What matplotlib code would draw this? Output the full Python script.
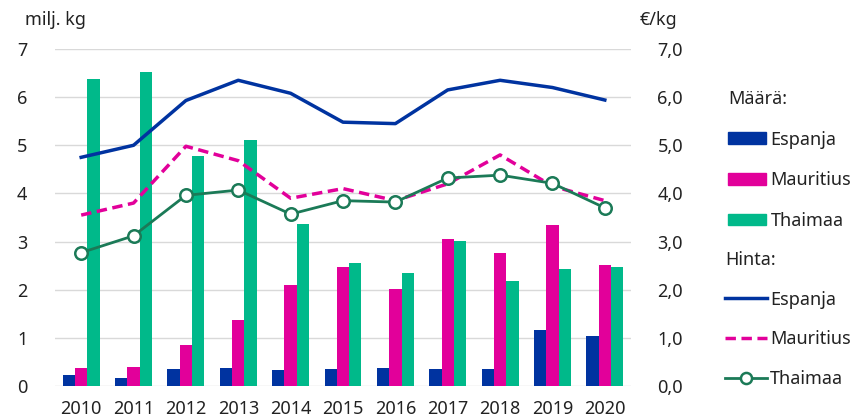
import numpy as np
import matplotlib.pyplot as plt
from matplotlib.lines import Line2D
from matplotlib.patches import Patch

plt.rcParams['font.family'] = ['Noto Sans', 'DejaVu Sans']

years = ['2010', '2011', '2012', '2013', '2014', '2015', '2016', '2017', '2018', '2019', '2020']

# amounts, million kg
qty_espanja = [0.22, 0.17, 0.35, 0.38, 0.33, 0.35, 0.38, 0.35, 0.36, 1.16, 1.04]
qty_mauritius = [0.38, 0.40, 0.85, 1.38, 2.10, 2.48, 2.01, 3.06, 2.77, 3.35, 2.52]
qty_thaimaa = [6.38, 6.52, 4.78, 5.11, 3.37, 2.56, 2.35, 3.02, 2.19, 2.42, 2.47]

# prices, EUR/kg
price_espanja = [4.75, 5.00, 5.93, 6.35, 6.08, 5.48, 5.45, 6.15, 6.35, 6.20, 5.94]
price_mauritius = [3.55, 3.80, 4.98, 4.68, 3.90, 4.10, 3.85, 4.20, 4.80, 4.15, 3.85]
price_thaimaa = [2.77, 3.12, 3.96, 4.07, 3.57, 3.85, 3.82, 4.32, 4.38, 4.21, 3.70]

c_blue = '#0033A0'
c_pink = '#E2009A'
c_green = '#00B98A'
c_dkgreen = '#1B7A57'
c_text = '#222222'

fig = plt.figure(figsize=(8.61, 4.2), dpi=100)
ax = fig.add_axes([55/861, 1 - 386/420, 576/861, 337/420])
ax2 = ax.twinx()

x = np.arange(len(years))
w = 0.235
ax.bar(x - w, qty_espanja, w, color=c_blue, zorder=2)
ax.bar(x, qty_mauritius, w, color=c_pink, zorder=2)
ax.bar(x + w, qty_thaimaa, w, color=c_green, zorder=2)

ax.set_xlim(-0.5, len(years) - 0.5)
ax.set_ylim(0, 7)
ax.set_yticks(range(0, 8))
ax.set_xticks(x)
ax.set_xticklabels(years)
ax.grid(axis='y', color='#D9D9D9', linewidth=1)
ax.set_axisbelow(True)
ax.tick_params(length=0, labelsize=13, colors=c_text)
ax.tick_params(axis='x', pad=10)
ax.tick_params(axis='y', pad=20)
for s in ax.spines.values():
    s.set_visible(False)

ax2.plot(x, price_espanja, color=c_blue, linewidth=2.5)
ax2.plot(x, price_mauritius, color=c_pink, linewidth=2.5, linestyle=(0, (3, 1.6)))
ax2.plot(x, price_thaimaa, color=c_dkgreen, linewidth=2, marker='o', markersize=9,
         markerfacecolor='white', markeredgewidth=1.8)
ax2.set_ylim(0, 7)
ax2.set_yticks(range(0, 8))
ax2.set_yticklabels([f'{v},0' for v in range(0, 8)])
ax2.tick_params(length=0, labelsize=13, colors=c_text, pad=19)
for s in ax2.spines.values():
    s.set_visible(False)

fig.text(25/861, 1 - 20/420, 'milj. kg', fontsize=13, va='center', color=c_text)
fig.text(640/861, 1 - 20/420, '€/kg', fontsize=13, va='center', color=c_text)

h1 = [Patch(color=c_blue), Patch(color=c_pink), Patch(color=c_green)]
leg1 = fig.legend(h1, ['Espanja', 'Mauritius', 'Thaimaa'], title='Määrä:',
                  loc='upper left', bbox_to_anchor=(728/861, 1 - 90/420),
                  frameon=False, fontsize=13, title_fontsize=13, alignment='left',
                  handlelength=2.1, handleheight=0.6, handletextpad=0.25,
                  labelspacing=1.25, borderaxespad=0, borderpad=0)
h2 = [Line2D([], [], color=c_blue, linewidth=2.5),
      Line2D([], [], color=c_pink, linewidth=2.5, linestyle=(0, (3, 1.6))),
      Line2D([], [], color=c_dkgreen, linewidth=2, marker='o', markersize=8,
             markerfacecolor='white', markeredgewidth=1.8)]
leg2 = fig.legend(h2, ['Espanja', 'Mauritius', 'Thaimaa'], title='Hinta:',
                  loc='upper left', bbox_to_anchor=(725/861, 1 - 251/420),
                  frameon=False, fontsize=13, title_fontsize=13, alignment='left',
                  handlelength=2.3, handletextpad=0.2,
                  labelspacing=1.2, borderaxespad=0, borderpad=0)
for leg in (leg1, leg2):
    for t in leg.get_texts():
        t.set_color(c_text)
    leg.get_title().set_color(c_text)

fig.savefig('out.png', dpi=100)
